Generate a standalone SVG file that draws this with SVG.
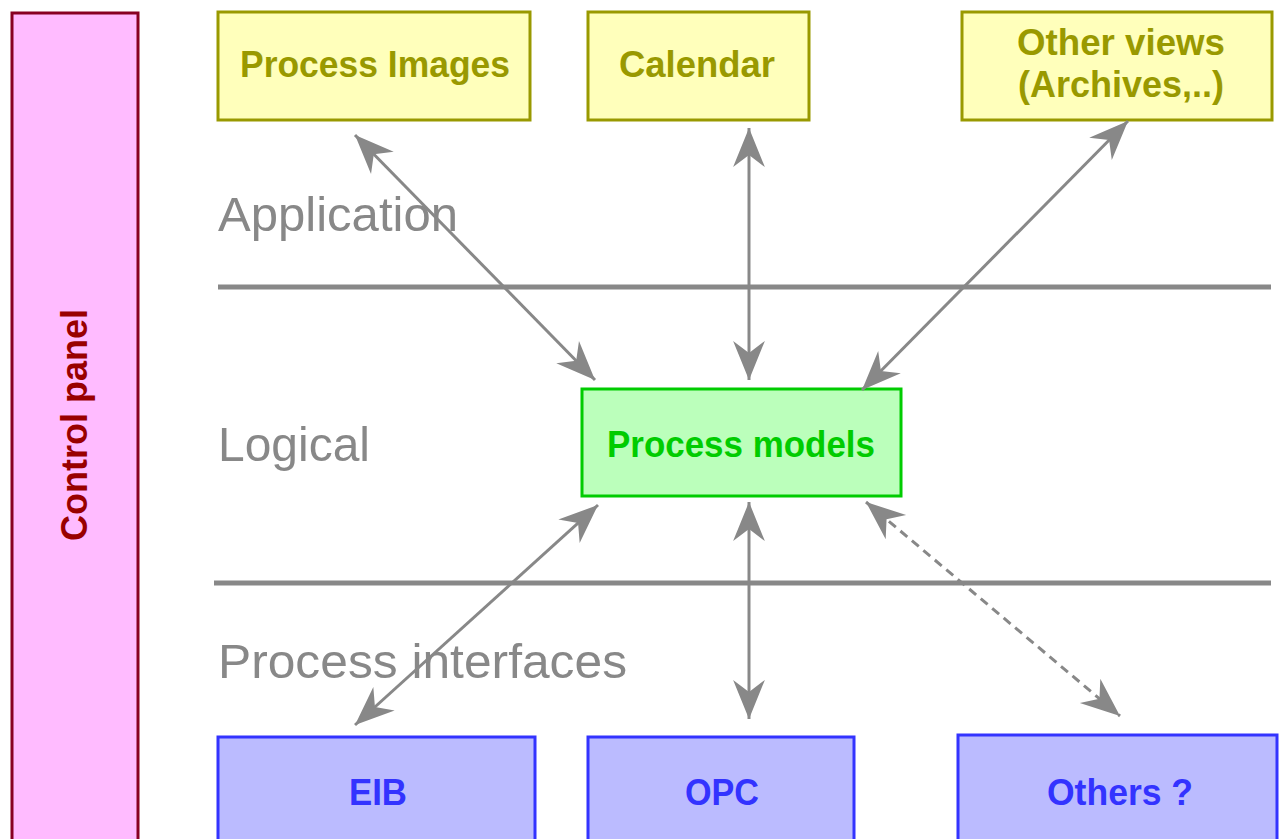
<svg xmlns="http://www.w3.org/2000/svg" width="1286" height="839" viewBox="0 0 1286 839">
<style>
.app{fill:#ffffbb;stroke:#999900;stroke-width:3}
.app-t{fill:#999900;font-family:"Liberation Sans",Arial,sans-serif;font-weight:bold;font-size:37px;text-anchor:middle}
.log{fill:#bbffbb;stroke:#00cc00;stroke-width:3}
.log-t{fill:#00cc00;font-family:"Liberation Sans",Arial,sans-serif;font-weight:bold;font-size:37px;text-anchor:middle}
.pi{fill:#bbbbff;stroke:#3333ff;stroke-width:3}
.pi-t{fill:#3333ff;font-family:"Liberation Sans",Arial,sans-serif;font-weight:bold;font-size:37px;text-anchor:middle}
.layer{fill:#888888;font-family:"Liberation Sans",Arial,sans-serif;font-size:49px}
.sep{stroke:#888888;stroke-width:5}
.conn{stroke:#888888;stroke-width:3;fill:none;marker-start:url(#ah);marker-end:url(#ah)}
.dash{stroke-dasharray:9 6}
</style>
<defs>
<marker id="ah" markerUnits="userSpaceOnUse" markerWidth="44" markerHeight="44" viewBox="-34 -17 36 34" refX="0" refY="0" orient="auto-start-reverse">
<path d="M0,0 L-32,-13 L-22,0 L-32,13 Z" fill="#888888"/>
</marker>
</defs>
<rect width="1286" height="839" fill="#ffffff"/>

<g id="control-panel">
<rect x="12" y="13" width="126" height="840" fill="#ffbbff" stroke="#880022" stroke-width="3"/>
<text transform="translate(87,425) rotate(-90)" fill="#990000" font-family="'Liberation Sans',Arial,sans-serif" font-weight="bold" font-size="37" text-anchor="middle" textLength="232" lengthAdjust="spacingAndGlyphs">Control panel</text>
</g>

<g id="layers">
<line class="sep" x1="218" y1="287" x2="1271" y2="287"/>
<line class="sep" x1="214" y1="583" x2="1271" y2="583"/>
<text class="layer" x="218" y="231" textLength="240" lengthAdjust="spacingAndGlyphs">Application</text>
<text class="layer" x="218" y="461" textLength="152" lengthAdjust="spacingAndGlyphs">Logical</text>
<text class="layer" x="218" y="678" textLength="409" lengthAdjust="spacingAndGlyphs">Process interfaces</text>
</g>

<g id="process-images">
<rect class="app" x="218" y="12" width="312" height="108"/>
<text class="app-t" x="375" y="77" textLength="270" lengthAdjust="spacingAndGlyphs">Process Images</text>
</g>
<g id="calendar">
<rect class="app" x="588" y="12" width="221" height="108"/>
<text class="app-t" x="697" y="77" textLength="156" lengthAdjust="spacingAndGlyphs">Calendar</text>
</g>
<g id="other-views">
<rect class="app" x="962" y="12" width="310" height="108"/>
<text class="app-t" x="1121" y="55" textLength="208" lengthAdjust="spacingAndGlyphs">Other views</text>
<text class="app-t" x="1121" y="97" textLength="206" lengthAdjust="spacingAndGlyphs">(Archives,..)</text>
</g>

<g id="process-models">
<rect class="log" x="582" y="389" width="319" height="107"/>
<text class="log-t" x="741" y="457" textLength="268" lengthAdjust="spacingAndGlyphs">Process models</text>
</g>

<g id="eib">
<rect class="pi" x="218" y="737" width="317" height="110"/>
<text class="pi-t" x="378" y="805" textLength="58" lengthAdjust="spacingAndGlyphs">EIB</text>
</g>
<g id="opc">
<rect class="pi" x="588" y="737" width="266" height="110"/>
<text class="pi-t" x="722" y="805" textLength="74" lengthAdjust="spacingAndGlyphs">OPC</text>
</g>
<g id="others">
<rect class="pi" x="958" y="735" width="319" height="112"/>
<text class="pi-t" x="1120" y="805" textLength="146" lengthAdjust="spacingAndGlyphs">Others ?</text>
</g>

<g id="connectors">
<line class="conn" x1="355" y1="135" x2="595" y2="380"/>
<line class="conn" x1="749" y1="128" x2="749" y2="380"/>
<line class="conn" x1="1128" y1="121" x2="862" y2="390"/>
<line class="conn" x1="598" y1="505" x2="355" y2="725"/>
<line class="conn" x1="749" y1="502" x2="749" y2="719"/>
<line class="conn dash" x1="866" y1="502" x2="1120" y2="716"/>
</g>
</svg>
